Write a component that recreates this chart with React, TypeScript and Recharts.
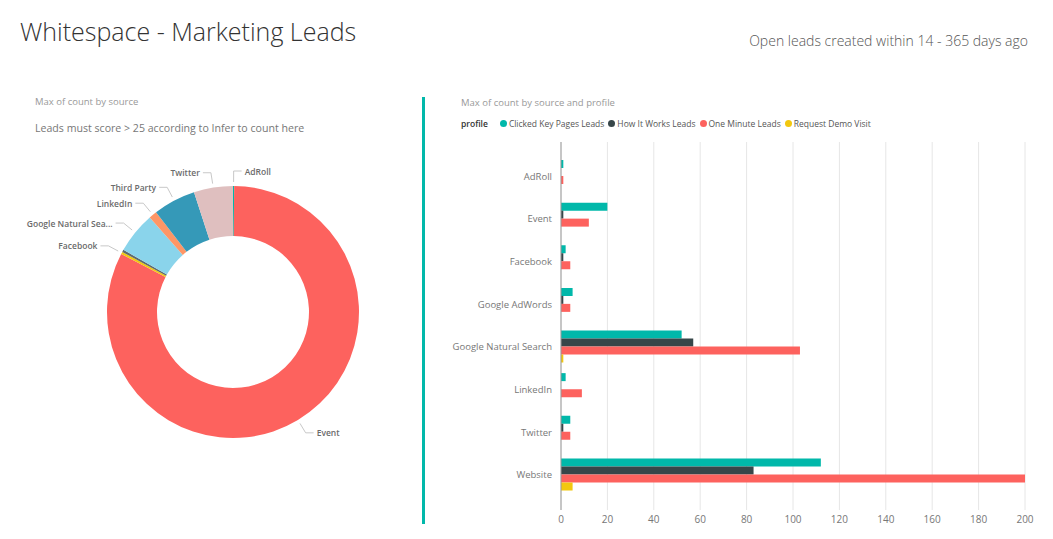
import { Bar, BarChart, CartesianGrid, Cell, Pie, PieChart, XAxis, YAxis } from 'recharts'

// donut: Max of count by source (clockwise from 12 o'clock)
const sources = ['AdRoll', 'Event', 'Facebook', 'Google AdWords', 'Google Natural Search', 'LinkedIn', 'Third Party', 'Twitter']
const sourceCounts = [1, 560, 2, 2, 36, 7, 37, 34]
const hiddenLabels = ['Google AdWords']

// bars: Max of count by source and profile
const barSources = ['AdRoll', 'Event', 'Facebook', 'Google AdWords', 'Google Natural Search', 'LinkedIn', 'Twitter', 'Website']
const profiles = ['Clicked Key Pages Leads', 'How It Works Leads', 'One Minute Leads', 'Request Demo Visit']
const clickedKeyPages = [1, 20, 2, 5, 52, 2, 4, 112]
const howItWorks = [0, 1, 1, 1, 57, 0, 1, 83]
const oneMinute = [1, 12, 4, 4, 103, 9, 4, 200]
const requestDemo = [0, 0, 0, 0, 1, 0, 0, 5]
const xTicks = [0, 20, 40, 60, 80, 100, 120, 140, 160, 180, 200]

const SLICE_COLORS = ['#01B8AA', '#FD625E', '#F2C80F', '#5F6B6D', '#8AD4EB', '#FE9666', '#3599B8', '#DFBFBF']
const PROFILE_COLORS = ['#01B8AA', '#374649', '#FD625E', '#F2C80F']
const FONT = "'Segoe UI', 'Open Sans', sans-serif"

const pieData = sources.map((name, i) => ({ name, value: sourceCounts[i] }))
const barData = barSources.map((source, i) => ({
  source,
  p0: clickedKeyPages[i],
  p1: howItWorks[i],
  p2: oneMinute[i],
  p3: requestDemo[i],
}))

function renderSliceLabel(props: any) {
  const { cx, cy, midAngle, outerRadius, name } = props
  if (hiddenLabels.includes(name)) return null
  const rad = (-midAngle * Math.PI) / 180
  const cos = Math.cos(rad)
  const sin = Math.sin(rad)
  const sx = cx + (outerRadius + 4) * cos
  const sy = cy + (outerRadius + 4) * sin
  const ex = cx + (outerRadius + 15) * cos
  const ey = cy + (outerRadius + 15) * sin
  const right = cos >= 0
  const hx = ex + (right ? 8 : -8)
  const text = name.length > 18 ? name.slice(0, 18) + '...' : name
  return (
    <g key={name}>
      <polyline points={`${sx},${sy} ${ex},${ey} ${hx},${ey}`} stroke="#C8C8C8" fill="none" strokeWidth={1} />
      <text
        x={hx + (right ? 3 : -3)}
        y={ey}
        textAnchor={right ? 'start' : 'end'}
        dominantBaseline="central"
        fontSize={8.5}
        fontWeight={600}
        fontFamily={FONT}
        fill="#6B6B6B"
      >
        {text}
      </text>
    </g>
  )
}

// category tick without wrapping
function SourceTick(props: any) {
  const { x, y, payload } = props
  return (
    <text x={x - 1} y={y} textAnchor="end" dominantBaseline="central" fontSize={9.5} fill="#777" fontFamily={FONT}>
      {payload.value}
    </text>
  )
}

const abs = (left: number, top: number, extra: object = {}) => ({ position: 'absolute' as const, left, top, ...extra })

export default function App() {
  return (
    <div style={{ position: 'absolute', left: 0, top: 0, width: 1053, height: 539, background: '#fff', fontFamily: FONT, overflow: 'hidden' }}>
      <div style={abs(20, 14, { fontSize: 25, fontWeight: 300, color: '#333', whiteSpace: 'nowrap' })}>Whitespace - Marketing Leads</div>
      <div style={{ position: 'absolute', right: 25, top: 31, fontSize: 14, fontWeight: 300, color: '#555', whiteSpace: 'nowrap' }}>
        Open leads created within 14 - 365 days ago
      </div>

      {/* left: donut */}
      <div style={abs(35, 95, { fontSize: 9.5, color: '#999', whiteSpace: 'nowrap' })}>Max of count by source</div>
      <div style={abs(35, 121, { fontSize: 10.6, color: '#777', whiteSpace: 'nowrap' })}>Leads must score &gt; 25 according to Infer to count here</div>
      <div style={abs(0, 0)}>
        <PieChart width={420} height={539} margin={{ top: 0, right: 0, bottom: 0, left: 0 }}>
          <Pie
            data={pieData}
            dataKey="value"
            nameKey="name"
            cx={233}
            cy={312}
            innerRadius={76}
            outerRadius={126}
            startAngle={90}
            endAngle={-270}
            stroke="none"
            label={renderSliceLabel}
            labelLine={false}
            isAnimationActive={false}
          >
            {pieData.map((d, i) => (
              <Cell key={d.name} fill={SLICE_COLORS[i]} />
            ))}
          </Pie>
        </PieChart>
      </div>

      <div style={abs(422, 97, { width: 3, height: 427, background: '#01B8AA' })} />

      {/* right: grouped bars */}
      <div style={abs(461, 96, { fontSize: 9.5, color: '#999', whiteSpace: 'nowrap' })}>Max of count by source and profile</div>
      <div style={abs(461, 118, { fontSize: 8.5, color: '#555', whiteSpace: 'nowrap', display: 'flex', alignItems: 'center' })}>
        <span style={{ fontWeight: 600, color: '#333', marginRight: 12 }}>profile</span>
        {profiles.map((p, i) => (
          <span key={p} style={{ display: 'flex', alignItems: 'center', marginRight: 4 }}>
            <span style={{ width: 7, height: 7, borderRadius: '50%', background: PROFILE_COLORS[i], marginRight: 2 }} />
            {p}
          </span>
        ))}
      </div>
      <div style={abs(440, 130)}>
        <BarChart
          width={613}
          height={409}
          data={barData}
          layout="vertical"
          margin={{ top: 12, right: 28, bottom: 9, left: 0 }}
          barGap={0}
        >
          <CartesianGrid horizontal={false} stroke="#E6E6E6" />
          <XAxis
            type="number"
            domain={[0, 200]}
            ticks={xTicks}
            axisLine={false}
            tickLine={false}
            tickSize={4}
            height={20}
            tick={{ fontSize: 10, fill: '#777', fontFamily: FONT }}
          />
          <YAxis
            type="category"
            dataKey="source"
            width={121}
            padding={{ top: 13, bottom: 14 }}
            axisLine={{ stroke: '#999' }}
            tickLine={false}
            tick={<SourceTick />}
          />
          {profiles.map((p, i) => (
            <Bar key={p} dataKey={`p${i}`} name={p} fill={PROFILE_COLORS[i]} barSize={8} isAnimationActive={false} />
          ))}
        </BarChart>
      </div>
    </div>
  )
}
